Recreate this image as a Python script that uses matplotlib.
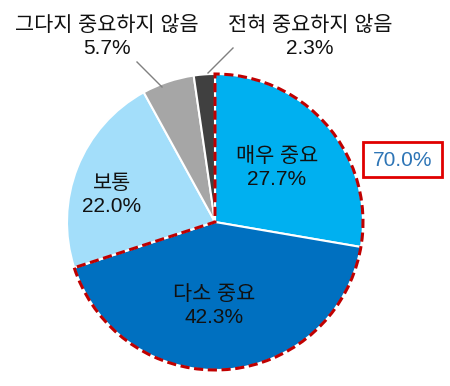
import matplotlib
matplotlib.use("Agg")
import matplotlib.pyplot as plt
from matplotlib.patches import Wedge, Rectangle

# Arial-like digits, Hangul falls back to Noto CJK
plt.rcParams['font.family'] = ['Liberation Sans', 'Noto Sans CJK KR']

# data
labels = ['매우 중요', '다소 중요', '보통', '그다지 중요하지 않음', '전혀 중요하지 않음']
values = [27.7, 42.3, 22.0, 5.7, 2.3]
colors = ['#00B0F0', '#0070C0', '#A3DEFA', '#A6A6A6', '#404040']
highlight_total = 70.0

# canvas in pixel units (y up)
W, H = 450, 386
cx, cy, r = 215, 386 - 222, 148

fig = plt.figure(figsize=(4.5, 3.86), dpi=100)
ax = fig.add_axes([0, 0, 1, 1])

ax.pie(values, colors=colors, startangle=90, counterclock=False,
       center=(cx, cy), radius=r, frame=True,
       wedgeprops=dict(edgecolor='white', linewidth=1.5))
ax.set_xlim(0, W)
ax.set_ylim(0, H)
ax.set_aspect('equal')
ax.axis('off')

# dashed outline round the first two slices
end = 90
start = 90 - highlight_total / 100 * 360
ax.add_patch(Wedge((cx, cy), r, start, end, fill=False, edgecolor='#C00000',
                   linewidth=2.2, linestyle=(0, (3, 1.5)), zorder=5))

fs = 15
txt = dict(ha='center', va='center', fontsize=fs, linespacing=1.25,
           fontweight='medium', color='#111111')
ax.text(277, 386 - 168, f'{labels[0]}\n{values[0]:.1f}%', zorder=6, **txt)
ax.text(214, 386 - 306, f'{labels[1]}\n{values[1]:.1f}%', zorder=6, **txt)
ax.text(112, 386 - 195, f'{labels[2]}\n{values[2]:.1f}%', zorder=6, **txt)
ax.text(107, 386 - 37, f'{labels[3]}\n{values[3]:.1f}%', **txt)
ax.text(310, 386 - 37, f'{labels[4]}\n{values[4]:.1f}%', **txt)

# leader lines
ax.plot([137, 162], [386 - 62, 386 - 87], color='#808080', lw=1)
ax.plot([233, 208], [386 - 48, 386 - 73], color='#808080', lw=1)

# 70% box
ax.add_patch(Rectangle((363, 386 - 177), 79, 35, fill=False, edgecolor='#E00000',
                       linewidth=2))
ax.text(402.5, 386 - 160, f'{highlight_total:.1f}%', ha='center', va='center',
        fontsize=fs, color='#2E75B6')

fig.savefig('out.png', dpi=100)
